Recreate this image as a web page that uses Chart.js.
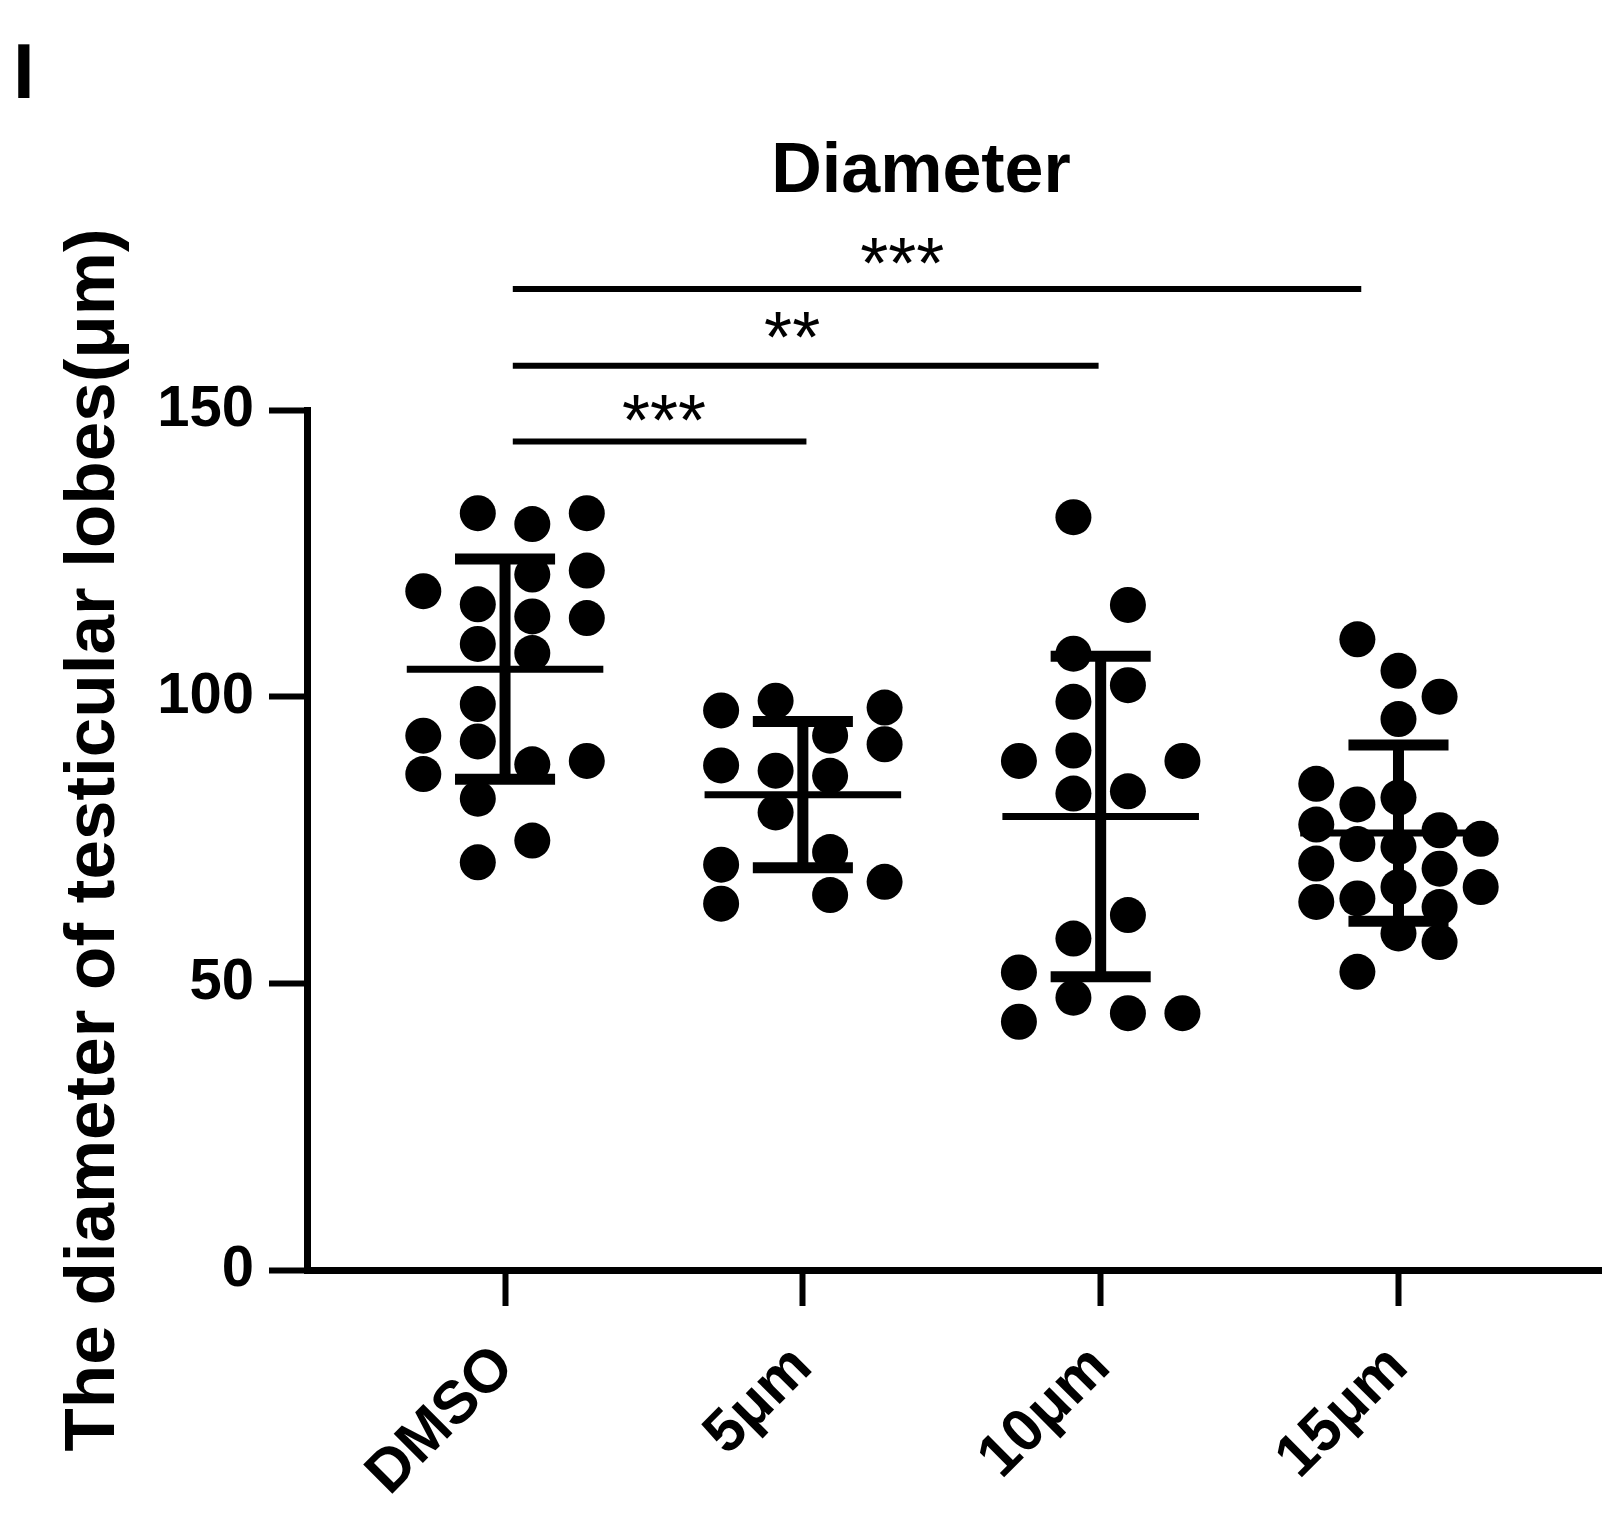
<!DOCTYPE html>
<html>
<head>
<meta charset="utf-8">
<script src="https://cdn.jsdelivr.net/npm/chart.js@4.4.0/dist/chart.umd.min.js"></script>
<style>
html,body{margin:0;padding:0;background:#fff;}
canvas{display:block;}
</style>
</head>
<body>
<canvas id="c" width="1607" height="1519"></canvas>
<script>
// ---------- data ----------
const categories = ['DMSO', '5μm', '10μm', '15μm'];
const dmsoValues = [132.0, 130.1, 132.0, 121.3, 122.0, 118.4, 116.1, 114.0, 113.7, 109.2, 107.6, 98.7, 93.2, 92.2, 88.2, 88.8, 86.5, 82.2, 74.9, 71.1];
const um5Values  = [97.6, 99.3, 93.2, 98.1, 91.7, 88.0, 87.1, 86.2, 79.8, 72.9, 70.7, 67.7, 65.4, 63.9];
const um10Values = [131.3, 116.0, 107.5, 102.0, 99.1, 90.6, 88.8, 88.8, 83.1, 83.5, 61.9, 57.8, 51.9, 47.5, 44.8, 44.8, 43.3];
const um15Values = [110.0, 104.5, 100.0, 96.1, 84.8, 81.2, 82.4, 77.7, 74.3, 73.8, 76.7, 75.2, 70.9, 70.0, 66.8, 66.8, 64.2, 64.8, 63.3, 58.7, 57.2, 52.0];
const groupMeans = [104.8, 82.9, 79.1, 76.2];
const groupSDs   = [19.2, 12.75, 27.95, 15.35];
const yTicks = [0, 50, 100, 150];
const chartTitle = 'Diameter';
const yTitle = 'The diameter of testicular lobes(μm)';
const panelLabel = 'I';
// significance brackets (x in category units, y in data units)
const sigFrom  = [1.026, 1.026, 1.026];
const sigTo    = [3.875, 2.993, 2.012];
const sigLevel = [171.1, 157.7, 144.5];
const sigText  = ['***', '**', '***'];
const sigTextX = [2.334, 1.964, 1.534];
const sigTextY = [177.3, 164.4, 150.0];

// ---------- layout (jitter slots, not data) ----------
const slots = [
  [-0.5,0.5,1.5,0.5,1.5,-1.5,-0.5,0.5,1.5,-0.5,0.5,-0.5,-1.5,-0.5,0.5,1.5,-1.5,-0.5,0.5,-0.5],
  [-1.5,-0.5,0.5,1.5,1.5,-1.5,-0.5,0.5,-0.5,0.5,-1.5,1.5,0.5,-1.5],
  [-0.5,0.5,-0.5,0.5,-0.5,-0.5,-1.5,1.5,-0.5,0.5,0.5,-0.5,-1.5,-0.5,0.5,1.5,-1.5],
  [-1,0,1,0,-2,-1,0,-2,-1,0,1,2,-2,1,0,2,-2,-1,1,0,1,-1]
];
const slotWidth = [0.183, 0.183, 0.183, 0.138];
const MEAN_HALF = 0.33;
const CAP_HALF = 0.168;
const FAMILY = "'Liberation Sans', Arial, Helvetica, sans-serif";

const groups = [dmsoValues, um5Values, um10Values, um15Values];
const datasets = [];

groups.forEach((vals, g) => {
  const c = g + 1, m = groupMeans[g], s = groupSDs[g];
  const seg = (pts, w) => datasets.push({
    type: 'scatter', data: pts, showLine: true, borderColor: '#000',
    borderWidth: w, pointRadius: 0, borderCapStyle: 'butt', order: 0, clip: false
  });
  seg([{x: c - MEAN_HALF, y: m}, {x: c + MEAN_HALF, y: m}], 7);
  seg([{x: c, y: m - s}, {x: c, y: m + s}], 11);
  seg([{x: c - CAP_HALF, y: m + s}, {x: c + CAP_HALF, y: m + s}], 11);
  seg([{x: c - CAP_HALF, y: m - s}, {x: c + CAP_HALF, y: m - s}], 11);
});

groups.forEach((vals, g) => {
  datasets.push({
    type: 'scatter',
    data: vals.map((v, i) => ({x: g + 1 + slots[g][i] * slotWidth[g], y: v})),
    pointRadius: 18, pointHoverRadius: 18,
    pointBackgroundColor: '#000', pointBorderWidth: 0, showLine: false, order: 1
  });
});

sigLevel.forEach((lv, i) => {
  datasets.push({
    type: 'scatter', data: [{x: sigFrom[i], y: lv}, {x: sigTo[i], y: lv}],
    showLine: true, borderColor: '#000', borderWidth: 6, pointRadius: 0,
    borderCapStyle: 'butt', clip: false, order: 0
  });
});

const textPlugin = {
  id: 'texts',
  afterDraw(chart) {
    const {ctx, chartArea, scales: {x, y}} = chart;
    ctx.save();
    ctx.fillStyle = '#000';
    ctx.textBaseline = 'alphabetic';
    // title
    ctx.font = `bold 70px ${FAMILY}`;
    ctx.textAlign = 'center';
    ctx.fillText(chartTitle, (chartArea.left + chartArea.right) / 2 - 33, chartArea.top - 218);
    // panel label
    ctx.font = `bold 78px ${FAMILY}`;
    ctx.textAlign = 'left';
    ctx.fillText(panelLabel, 13, 98);
    // stars
    ctx.font = `72px ${FAMILY}`;
    ctx.textAlign = 'center';
    sigText.forEach((t, i) => {
      ctx.fillText(t, x.getPixelForValue(sigTextX[i]), y.getPixelForValue(sigTextY[i]) + 0.48 * 72);
    });
    ctx.restore();
  }
};

new Chart(document.getElementById('c'), {
  type: 'scatter',
  data: {datasets},
  plugins: [textPlugin],
  options: {
    responsive: false,
    animation: false,
    devicePixelRatio: 1,
    layout: {autoPadding: false, padding: {top: 410, right: 6, left: 0, bottom: 0}},
    plugins: {legend: {display: false}, tooltip: {enabled: false}, title: {display: false}},
    scales: {
      x: {
        type: 'linear', min: 0.335, max: 4.68,
        afterBuildTicks: (s) => { s.ticks = categories.map((_, i) => ({value: i + 1})); },
        ticks: {
          autoSkip: false, minRotation: 45, maxRotation: 45, padding: 26, color: '#000',
          font: {family: FAMILY, size: 60, weight: 'bold'},
          callback: (v) => categories[v - 1] ?? ''
        },
        grid: {drawOnChartArea: false, drawTicks: true, tickLength: 36, tickWidth: 6, tickColor: '#000'},
        border: {display: true, color: '#000', width: 7},
        afterFit: (s) => { s.height = 249; s.paddingLeft = 0; s.paddingRight = 0; }
      },
      y: {
        type: 'linear', min: 0, max: 150,
        afterBuildTicks: (s) => { s.ticks = yTicks.map(v => ({value: v})); },
        ticks: {padding: 15, color: '#000', font: {family: FAMILY, size: 58, weight: 'bold'}},
        grid: {drawOnChartArea: false, drawTicks: true, tickLength: 38, tickWidth: 6, tickColor: '#000'},
        border: {display: true, color: '#000', width: 7},
        title: {display: true, text: yTitle, color: '#000', font: {family: FAMILY, size: 71, weight: 'bold'}, padding: {top: 52, bottom: 0}},
        afterFit: (s) => { s.width = 307; s.paddingTop = 0; s.paddingBottom = 0; }
      }
    }
  }
});
</script>
</body>
</html>
